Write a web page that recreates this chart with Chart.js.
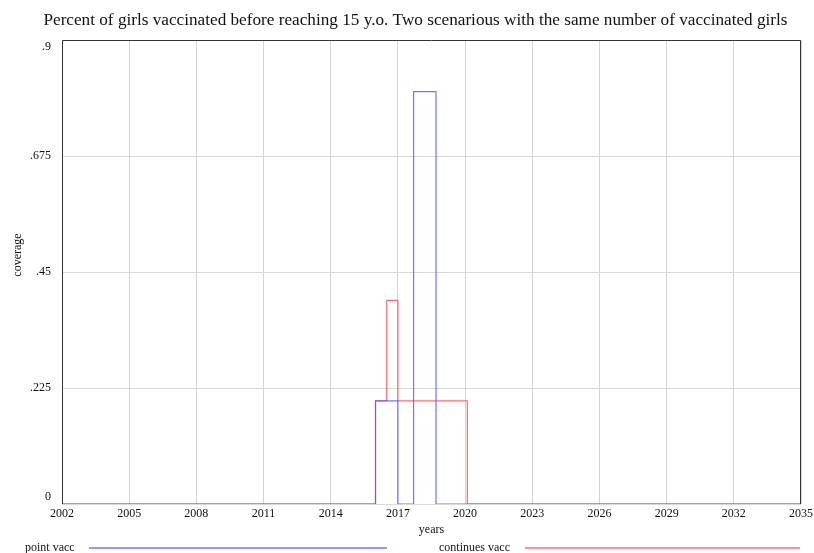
<!DOCTYPE html>
<html>
<head>
<meta charset="utf-8">
<script src="https://cdn.jsdelivr.net/npm/chart.js@4"></script>
<style>
  html, body { margin: 0; padding: 0; background: #fff; }
  #wrap { width: 814px; height: 553px; }
</style>
</head>
<body>
<div id="wrap"><canvas id="chart" width="814" height="553"></canvas></div>
<script>
// step series: each value holds from its year until the next year in the list
const pointYears = [2002, 2016, 2017, 2017.7, 2018.7, 2035];
const pointValues = [0, 0.2, 0, 0.8, 0, 0];
const contYears = [2002, 2016, 2016.5, 2017, 2020.1, 2035];
const contValues = [0, 0.2, 0.395, 0.2, 0, 0];
const yTicks = [0, 0.225, 0.45, 0.675, 0.9];

const serif = "'Liberation Serif', 'Times New Roman', serif";
const blue = 'rgba(90, 90, 255, 0.85)';
const red = 'rgba(255, 70, 70, 0.8)';

function toPoints(xs, ys) {
  return xs.map((x, i) => ({ x: x, y: ys[i] }));
}

// frame around the plot, y axis name and bottom legend
const framePlugin = {
  id: 'frame',
  afterDraw(chart) {
    const ctx = chart.ctx;
    const a = chart.chartArea;
    ctx.save();
    ctx.strokeStyle = '#333';
    ctx.lineWidth = 1;
    ctx.beginPath();
    ctx.moveTo(a.left + 0.5, a.bottom);
    ctx.lineTo(a.left + 0.5, a.top + 0.5);
    ctx.lineTo(a.right - 0.5, a.top + 0.5);
    ctx.lineTo(a.right - 0.5, a.bottom);
    ctx.stroke();

    ctx.font = '12px ' + serif;
    ctx.fillStyle = '#111';
    ctx.textBaseline = 'middle';

    ctx.save();
    ctx.translate(18, 255);
    ctx.rotate(-Math.PI / 2);
    ctx.textAlign = 'center';
    ctx.fillText('coverage', 0, 0);
    ctx.restore();

    ctx.textAlign = 'left';
    const ly = 548;
    ctx.fillText('point vacc', 25, ly);
    ctx.fillText('continues vacc', 439, ly);
    ctx.lineWidth = 1.5;
    ctx.strokeStyle = blue;
    ctx.beginPath();
    ctx.moveTo(89, ly);
    ctx.lineTo(387, ly);
    ctx.stroke();
    ctx.strokeStyle = red;
    ctx.beginPath();
    ctx.moveTo(525, ly);
    ctx.lineTo(800, ly);
    ctx.stroke();
    ctx.restore();
  }
};

new Chart(document.getElementById('chart'), {
  type: 'line',
  data: {
    datasets: [
      {
        label: 'point vacc',
        data: toPoints(pointYears, pointValues),
        borderColor: blue,
        borderWidth: 1.2,
        stepped: true,
        pointRadius: 0,
        fill: false
      },
      {
        label: 'continues vacc',
        data: toPoints(contYears, contValues),
        borderColor: red,
        borderWidth: 1.2,
        stepped: true,
        pointRadius: 0,
        fill: false
      }
    ]
  },
  options: {
    responsive: false,
    animation: false,
    layout: { padding: { left: 30, right: 13, top: 0, bottom: 0 } },
    plugins: {
      legend: { display: false },
      tooltip: { enabled: false },
      title: {
        display: true,
        text: 'Percent of girls vaccinated before reaching 15 y.o. Two scenarious with the same number of vaccinated girls',
        color: '#111',
        font: { family: serif, size: 17.2, weight: 'normal' },
        padding: { top: 10.4, bottom: 8.96 }
      }
    },
    scales: {
      x: {
        type: 'linear',
        min: 2002,
        max: 2035,
        ticks: {
          stepSize: 3,
          color: '#111',
          font: { family: serif, size: 12 },
          padding: 3,
          maxRotation: 0,
          callback: v => String(v)
        },
        grid: { color: '#d4d4d4', drawTicks: false },
        border: { display: false },
        title: {
          display: true,
          text: 'years',
          color: '#111',
          font: { family: serif, size: 12 },
          padding: { top: 0, bottom: 16 }
        },
        afterFit(scale) {
          scale.height = 49;
          scale.paddingLeft = 0;
          scale.paddingRight = 0;
        }
      },
      y: {
        min: 0,
        max: 0.9,
        afterBuildTicks(scale) {
          scale.ticks = yTicks.map(v => ({ value: v }));
        },
        ticks: {
          color: '#111',
          font: { family: serif, size: 12 },
          padding: 11,
          callback: function (v) {
            const s = v === 0 ? '0' : String(v).replace(/^0/, '');
            // end labels sit inside the frame, like the original
            if (v === 0) return [s, ''];
            if (v === 0.9) return ['', s];
            return s;
          }
        },
        grid: { color: '#d8d8d8', drawTicks: false },
        border: { display: false },
        afterFit(scale) {
          scale.width = 32;
          scale.paddingTop = 0;
          scale.paddingBottom = 0;
        }
      }
    }
  },
  plugins: [framePlugin]
});
</script>
</body>
</html>
